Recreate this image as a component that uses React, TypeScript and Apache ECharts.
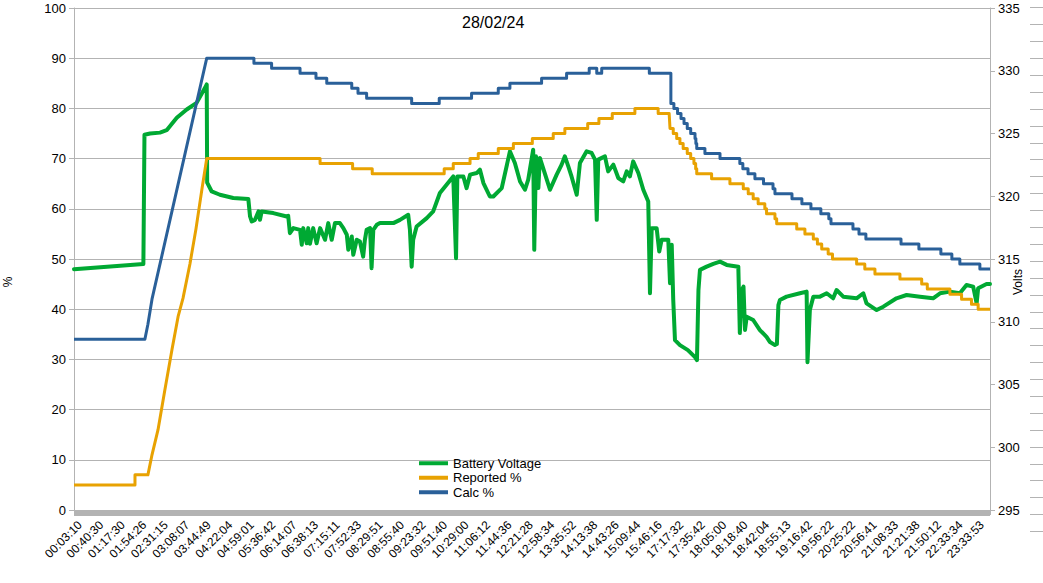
import React, { useEffect, useRef } from "react";
import * as echarts from "echarts";

const TITLE = "28/02/24";
const TIME_LABELS = [
  "00:03:10", "00:40:30", "01:17:30", "01:54:26", "02:31:15", "03:08:07", "03:44:49", "04:22:04",
  "04:59:01", "05:36:42", "06:14:07", "06:38:13", "07:15:11", "07:52:33", "08:29:51", "08:55:40",
  "09:23:32", "09:51:40", "10:29:00", "11:06:12", "11:44:36", "12:21:28", "12:58:34", "13:35:52",
  "14:13:38", "14:43:26", "15:09:44", "15:46:16", "17:17:32", "17:35:42", "18:05:00", "18:18:40",
  "18:42:04", "18:55:13", "19:16:42", "19:56:22", "20:25:22", "20:56:41", "21:08:33", "21:21:38",
  "21:50:12", "22:33:34", "23:33:53",
];
const X_MAX = 42.51;
const PCT_MIN = 0, PCT_MAX = 100, PCT_STEP = 10;
const VOLT_MIN = 295, VOLT_MAX = 335, VOLT_STEP = 5;

// [position along the time axis (label index), volts]
const BATTERY_VOLTS: [number, number][] = [
  [0, 314.19], [3.22, 314.61], [3.27, 324.9], [3.53, 325.0], [3.99, 325.07], [4.3, 325.26], [4.77, 326.25],
  [5.23, 326.91], [5.69, 327.44], [6.08, 328.64], [6.16, 328.91], [6.18, 321.08], [6.39, 320.38], [6.77, 320.12],
  [7.39, 319.86], [8.09, 319.78], [8.17, 318.39], [8.25, 317.99], [8.4, 318.12], [8.56, 318.79], [8.63, 318.12],
  [8.71, 318.79], [9.25, 318.66], [9.87, 318.39], [9.94, 318.44], [10.02, 317.06], [10.18, 317.46], [10.49, 317.32],
  [10.57, 316.13], [10.64, 317.46], [10.8, 316.26], [10.87, 317.46], [10.95, 316.21], [11.1, 317.46], [11.26, 316.26],
  [11.42, 317.46], [11.65, 316.53], [11.8, 317.86], [11.96, 316.53], [12.11, 317.86], [12.34, 317.86], [12.5, 317.46],
  [12.66, 316.93], [12.73, 315.73], [12.89, 316.79], [12.96, 315.33], [13.12, 316.53], [13.27, 316.39], [13.42, 315.19],
  [13.5, 316.53], [13.58, 317.32], [13.74, 317.46], [13.81, 314.27], [13.89, 317.32], [14.05, 317.72], [14.2, 317.86],
  [14.82, 317.86], [15.13, 318.12], [15.51, 318.52], [15.59, 317.32], [15.67, 314.39], [15.74, 316.53], [15.9, 317.59],
  [16.37, 318.26], [16.67, 318.79], [16.98, 320.26], [17.29, 320.92], [17.6, 321.58], [17.73, 315.06], [17.79, 321.58],
  [18.07, 321.58], [18.22, 320.65], [18.38, 321.72], [18.69, 321.85], [18.84, 322.12], [19.0, 321.05], [19.3, 319.98],
  [19.46, 319.98], [19.85, 320.65], [20.23, 323.58], [20.46, 322.65], [20.7, 321.18], [20.93, 320.52], [21.08, 321.32],
  [21.31, 323.71], [21.36, 315.73], [21.44, 323.18], [21.55, 320.65], [21.62, 323.05], [22.09, 320.52], [22.4, 321.72],
  [22.63, 322.52], [22.78, 323.18], [22.94, 322.38], [23.09, 321.58], [23.33, 320.12], [23.48, 322.65], [23.79, 323.58],
  [24.02, 323.45], [24.18, 322.92], [24.26, 318.12], [24.33, 322.92], [24.64, 323.18], [24.79, 321.98], [25.03, 322.52],
  [25.26, 321.45], [25.49, 321.18], [25.65, 321.98], [25.8, 321.58], [25.95, 322.78], [26.19, 321.85], [26.42, 320.52],
  [26.65, 319.58], [26.73, 312.27], [26.81, 317.46], [27.04, 317.46], [27.16, 315.59], [27.27, 316.53], [27.58, 316.53],
  [27.66, 313.07], [27.74, 316.13], [27.81, 311.73], [27.89, 308.54], [28.12, 308.14], [28.49, 307.74], [28.82, 307.18],
  [28.91, 306.94], [28.98, 312.53], [29.05, 314.13], [29.36, 314.39], [29.67, 314.61], [29.98, 314.79], [30.29, 314.53],
  [30.83, 314.39], [30.9, 309.1], [30.99, 312.53], [31.07, 312.8], [31.14, 309.34], [31.22, 310.4], [31.52, 310.14],
  [31.83, 309.34], [32.14, 308.8], [32.3, 308.38], [32.53, 308.14], [32.62, 308.22], [32.69, 311.33], [32.76, 311.73],
  [33.07, 312.0], [33.69, 312.27], [34.0, 312.4], [34.04, 306.78], [34.15, 310.93], [34.31, 312.0], [34.62, 312.0],
  [34.93, 312.27], [35.23, 311.87], [35.39, 312.53], [35.7, 312.0], [36.32, 311.87], [36.63, 312.27], [36.78, 311.47],
  [37.25, 310.93], [37.56, 311.2], [38.17, 311.87], [38.64, 312.13], [39.26, 312.0], [39.87, 311.87], [40.19, 312.27],
  [40.65, 312.4], [41.11, 312.27], [41.42, 312.93], [41.73, 312.8], [41.89, 311.47], [41.96, 312.67], [42.35, 313.01],
  [42.51, 313.01],
];

// [position, %]
const REPORTED_PCT: [number, number][] = [
  [0, 5], [2.83, 5], [2.83, 7], [3.43, 7], [3.62, 11], [3.9, 16], [4.22, 24], [4.55, 32], [4.83, 38.5], [5.06, 42.2],
  [5.38, 49], [5.66, 56], [5.94, 64], [6.16, 70], [11.42, 70], [11.42, 69], [12.93, 69], [12.93, 68], [13.84, 68],
  [13.84, 67], [17.18, 67], [17.18, 68], [17.6, 68], [17.6, 69], [18.38, 69], [18.38, 70], [18.76, 70], [18.76, 71],
  [19.69, 71], [19.69, 72], [20.39, 72], [20.39, 73], [21.27, 73], [21.27, 74], [22.24, 74], [22.24, 75], [22.78, 75],
  [22.78, 76], [23.84, 76], [23.84, 77], [24.36, 77], [24.36, 78], [24.98, 78], [24.98, 79], [26.03, 79], [26.03, 80],
  [27.11, 80], [27.11, 79], [27.62, 79], [27.66, 76], [27.81, 76], [27.81, 75], [27.97, 75], [27.97, 74], [28.12, 74],
  [28.12, 73], [28.27, 73], [28.27, 72], [28.46, 72], [28.46, 71], [28.62, 71], [28.62, 70], [28.77, 70], [28.77, 69],
  [28.85, 69], [28.85, 68], [28.9, 68], [28.9, 67], [29.59, 67], [29.59, 66], [30.44, 66], [30.44, 65], [31.06, 65],
  [31.06, 64], [31.29, 64], [31.29, 63], [31.52, 63], [31.52, 62], [31.75, 62], [31.75, 61], [32.06, 61], [32.06, 60],
  [32.14, 60], [32.14, 59], [32.53, 59], [32.53, 58], [32.61, 58], [32.61, 57], [33.54, 57], [33.54, 56], [33.92, 56],
  [33.92, 55], [34.31, 55], [34.31, 54], [34.5, 54], [34.5, 53], [34.7, 53], [34.7, 52], [35.0, 52], [35.0, 51],
  [35.2, 51], [35.2, 50], [36.32, 50], [36.32, 49], [36.7, 49], [36.7, 48], [37.17, 48], [37.17, 47], [38.33, 47],
  [38.33, 46], [39.34, 46], [39.34, 45], [39.6, 45], [39.6, 44], [40.65, 44], [40.65, 43], [41.19, 43], [41.19, 42],
  [41.65, 42], [41.65, 41], [41.96, 41], [41.96, 40], [42.51, 40],
];

// [position, %]
const CALC_PCT: [number, number][] = [
  [0, 34], [3.29, 34], [3.43, 37], [3.62, 42], [6.16, 90], [8.35, 90], [8.35, 89], [9.17, 89], [9.17, 88], [10.49, 88],
  [10.49, 87], [11.23, 87], [11.23, 86], [11.73, 86], [11.73, 85], [12.89, 85], [12.89, 84], [13.18, 84], [13.18, 83],
  [13.58, 83], [13.58, 82], [15.67, 82], [15.67, 81], [16.95, 81], [16.95, 82], [18.45, 82], [18.45, 83], [19.69, 83],
  [19.69, 84], [20.23, 84], [20.23, 85], [21.7, 85], [21.7, 86], [22.86, 86], [22.86, 87], [23.91, 87], [23.91, 88],
  [24.26, 88], [24.26, 87], [24.49, 87], [24.49, 88], [26.7, 88], [26.7, 87], [27.7, 87], [27.7, 81], [27.84, 81],
  [27.84, 80], [28.01, 80], [28.01, 79], [28.17, 79], [28.17, 78], [28.31, 78], [28.31, 77], [28.46, 77], [28.46, 76],
  [28.62, 76], [28.62, 75], [28.82, 75], [28.82, 74], [28.86, 74], [28.86, 73], [28.9, 73], [28.9, 72], [29.28, 72],
  [29.28, 71], [29.98, 71], [29.98, 70], [30.9, 70], [30.9, 69], [31.04, 69], [31.04, 68], [31.28, 68], [31.28, 67],
  [31.6, 67], [31.6, 66], [32.0, 66], [32.0, 65], [32.44, 65], [32.44, 64], [32.53, 64], [32.53, 63], [33.32, 63],
  [33.32, 62], [33.78, 62], [33.78, 61], [34.2, 61], [34.2, 60], [34.66, 60], [34.66, 59], [35.03, 59], [35.03, 58],
  [35.13, 58], [35.13, 57], [36.15, 57], [36.15, 56], [36.43, 56], [36.43, 55], [36.75, 55], [36.75, 54], [38.38, 54],
  [38.38, 53], [39.21, 53], [39.21, 52], [40.23, 52], [40.23, 51], [40.74, 51], [40.74, 50], [41.11, 50], [41.11, 49],
  [42.04, 49], [42.04, 48], [42.51, 48],
];

const FONT = "Liberation Sans";
const GRAY = "#b3b3b3";
const BAND_GRAY = "#b3b3b3";
const GREEN = "#00a933";
const ORANGE = "#e8a202";
const BLUE = "#2a6099";

// layout
const CHART_W = 1043;
const CHART_H = 583;
const PLOT_LEFT = 74;
const PLOT_RIGHT_GAP = 53;
const PLOT_TOP = 8;
const PLOT_BOTTOM_GAP = 73;

function buildOption() {
  const plotBottom = CHART_H - PLOT_BOTTOM_GAP;
  const plotRight = CHART_W - PLOT_RIGHT_GAP;

  const phantomTicks = Array.from({ length: 32 }, (_, i) => ({
    type: "rect",
    silent: true,
    z: 10,
    shape: { x: 1030, y: Math.round(7.3 + i * 16.9), width: 13, height: 1 },
    style: { fill: GRAY },
  }));

  // dense per-sample tick band under the time axis
  const sampleBand = {
    type: "rect",
    silent: true,
    z: 1,
    shape: { x: PLOT_LEFT, y: plotBottom + 1, width: plotRight - PLOT_LEFT, height: 5 },
    style: { fill: BAND_GRAY },
  };

  return {
    animation: false,
    backgroundColor: "#ffffff",
    textStyle: { fontFamily: FONT },
    title: {
      text: TITLE,
      left: 462,
      top: 14,
      padding: 0,
      textStyle: { fontSize: 16, fontWeight: "normal", color: "#000", fontFamily: FONT },
    },
    legend: {
      orient: "vertical",
      left: 419,
      top: 456,
      padding: 0,
      itemGap: 0,
      itemWidth: 29,
      itemHeight: 4,
      icon: "rect",
      textStyle: { fontSize: 13, color: "#000", fontFamily: FONT, lineHeight: 14.5 },
      data: ["Battery Voltage", "Reported %", "Calc %"],
    },
    grid: [
      { left: PLOT_LEFT, right: PLOT_RIGHT_GAP, top: PLOT_TOP, bottom: PLOT_BOTTOM_GAP },
      { left: 80, right: 61, top: PLOT_TOP, bottom: PLOT_BOTTOM_GAP },
    ],
    xAxis: [
      {
        type: "value",
        gridIndex: 0,
        position: "bottom",
        min: 0,
        max: X_MAX,
        interval: 1,
        axisLine: { show: true, onZero: false, lineStyle: { color: GRAY } },
        axisTick: { show: true, length: 5, lineStyle: { color: GRAY } },
        minorTick: { show: true, splitNumber: 10, length: 5, lineStyle: { color: GRAY } },
        axisLabel: { show: false },
        splitLine: { show: false },
      },
      {
        type: "category",
        gridIndex: 1,
        position: "bottom",
        data: TIME_LABELS,
        boundaryGap: false,
        axisLine: { show: false },
        axisTick: { show: false },
        splitLine: { show: false },
        axisLabel: { interval: 0, rotate: 45, fontSize: 12, color: "#000", fontFamily: FONT, margin: 13 },
      },
    ],
    yAxis: [
      {
        type: "value",
        gridIndex: 0,
        min: PCT_MIN,
        max: PCT_MAX,
        interval: PCT_STEP,
        axisLine: { show: true, lineStyle: { color: GRAY } },
        axisTick: { show: true, length: 5, lineStyle: { color: GRAY } },
        axisLabel: { fontSize: 13, color: "#000", fontFamily: FONT, margin: 8 },
        splitLine: { show: true, lineStyle: { color: GRAY, width: 1 } },
      },
      {
        type: "value",
        gridIndex: 0,
        position: "right",
        min: VOLT_MIN,
        max: VOLT_MAX,
        interval: VOLT_STEP,
        axisLine: { show: true, lineStyle: { color: GRAY } },
        axisTick: { show: true, length: 5, lineStyle: { color: GRAY } },
        axisLabel: { fontSize: 13, color: "#000", fontFamily: FONT, margin: 8 },
        splitLine: { show: false },
      },
      { type: "value", gridIndex: 1, show: false },
    ],
    graphic: [
      {
        type: "text",
        x: 8,
        y: 282,
        rotation: Math.PI / 2,
        style: { text: "%", fill: "#000", font: `12px "${FONT}"`, align: "center", verticalAlign: "middle" },
      },
      {
        type: "text",
        x: 1018,
        y: 282,
        rotation: Math.PI / 2,
        style: { text: "Volts", fill: "#000", font: `12px "${FONT}"`, align: "center", verticalAlign: "middle" },
      },
      sampleBand,
      ...phantomTicks,
    ],
    series: [
      {
        name: "Battery Voltage",
        type: "line",
        xAxisIndex: 0,
        yAxisIndex: 1,
        data: BATTERY_VOLTS,
        showSymbol: false,
        symbol: "none",
        color: GREEN,
        lineStyle: { color: GREEN, width: 4, join: "round", cap: "round" },
      },
      {
        name: "Reported %",
        type: "line",
        xAxisIndex: 0,
        yAxisIndex: 0,
        data: REPORTED_PCT,
        showSymbol: false,
        symbol: "none",
        color: ORANGE,
        lineStyle: { color: ORANGE, width: 3, join: "round" },
      },
      {
        name: "Calc %",
        type: "line",
        xAxisIndex: 0,
        yAxisIndex: 0,
        data: CALC_PCT,
        showSymbol: false,
        symbol: "none",
        color: BLUE,
        lineStyle: { color: BLUE, width: 3, join: "round" },
      },
    ],
  };
}

export default function App() {
  const ref = useRef<HTMLDivElement>(null);
  useEffect(() => {
    if (!ref.current) return;
    const chart = echarts.init(ref.current, null, { renderer: "svg" });
    chart.setOption(buildOption() as any);
    return () => chart.dispose();
  }, []);
  return (
    <div
      ref={ref}
      style={{ position: "fixed", left: 0, top: 0, width: CHART_W, height: CHART_H, background: "#fff" }}
    />
  );
}
